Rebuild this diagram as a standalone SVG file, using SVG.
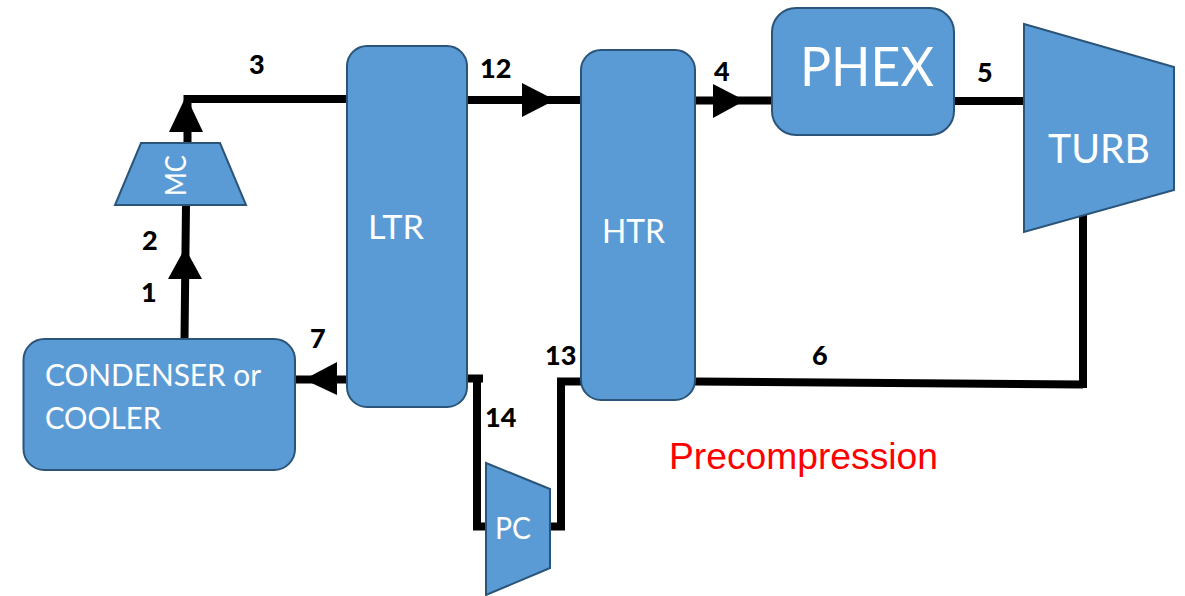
<svg xmlns="http://www.w3.org/2000/svg" width="1185" height="596" viewBox="0 0 1185 596">
<style>
.n{fill:#5b9bd5;stroke:#2a5478;stroke-width:2}
.t{fill:#fff;font-family:Lato,"Open Sans",sans-serif}
.l{fill:#000;font-family:Lato,"Open Sans",sans-serif;font-weight:900;font-size:27px}
.c{fill:none;stroke:#000;stroke-width:8}
.a{fill:#000}
</style>
<rect width="1185" height="596" fill="#fff"/>
<g id="connectors">
<path class="c" d="M184.500 339L186 205M187.500 143V99M183.500 99H347"/>
<path class="c" d="M295 379.500H347"/>
<path class="c" d="M467 100H581M695 100.500H772M954 101H1024"/>
<path class="c" d="M695 381.500L1083 384.500M1083 215V388"/>
<path class="c" d="M467 378.500H483M477 378V526M473 526.500H485"/>
<path class="c" d="M550 526.500H565M561 530V381M557 381.500H581"/>
<polygon class="a" points="186,96 203,132 169,132"/>
<polygon class="a" points="185,248 202,279 168,279"/>
<polygon class="a" points="304,379.500 337,362 337,395"/>
<polygon class="a" points="555,100 522,83 522,117"/>
<polygon class="a" points="745,100.500 713,84 713,118"/>
</g>
<g id="condenser"><rect class="n" x="23.500" y="339" width="271.500" height="131" rx="21"/><text class="t" x="45" y="386" font-size="31" textLength="216" lengthAdjust="spacingAndGlyphs">CONDENSER or</text><text class="t" x="45" y="429" font-size="31" textLength="116" lengthAdjust="spacingAndGlyphs">COOLER</text></g>
<g id="mc"><polygon class="n" points="141,143 220,143 246,205 115,205"/><text class="t" font-size="29" transform="translate(186,196) rotate(-90)" textLength="41" lengthAdjust="spacingAndGlyphs">MC</text></g>
<g id="ltr"><rect class="n" x="347" y="46" width="120" height="361" rx="20"/><text class="t" x="368" y="239" font-size="32" textLength="56" lengthAdjust="spacingAndGlyphs">LTR</text></g>
<g id="htr"><rect class="n" x="581" y="50" width="114" height="350" rx="20"/><text class="t" x="602" y="243" font-size="32" textLength="63" lengthAdjust="spacingAndGlyphs">HTR</text></g>
<g id="phex"><rect class="n" x="772" y="8" width="182" height="127" rx="24"/><text class="t" x="800" y="86" font-size="54" textLength="134" lengthAdjust="spacingAndGlyphs">PHEX</text></g>
<g id="turb"><polygon class="n" points="1024,24 1174,67 1174,190 1024,232"/><text class="t" x="1048" y="163" font-size="40" textLength="102" lengthAdjust="spacingAndGlyphs">TURB</text></g>
<g id="pc"><polygon class="n" points="486,463 550,489 550,568 486,595"/><text class="t" x="495" y="539" font-size="30" textLength="36" lengthAdjust="spacingAndGlyphs">PC</text></g>
<g id="labels">
<text class="l" x="249" y="74">3</text>
<text class="l" x="480" y="78">12</text>
<text class="l" x="714" y="81">4</text>
<text class="l" x="977" y="82">5</text>
<text class="l" x="142" y="250">2</text>
<text class="l" x="141" y="302">1</text>
<text class="l" x="310" y="348">7</text>
<text class="l" x="545" y="365">13</text>
<text class="l" x="485" y="427">14</text>
<text class="l" x="812" y="365">6</text>
<text x="669" y="469" fill="#f00" font-size="36" font-family="'Liberation Sans',Arial,sans-serif" textLength="269" lengthAdjust="spacingAndGlyphs">Precompression</text>
</g>
</svg>
